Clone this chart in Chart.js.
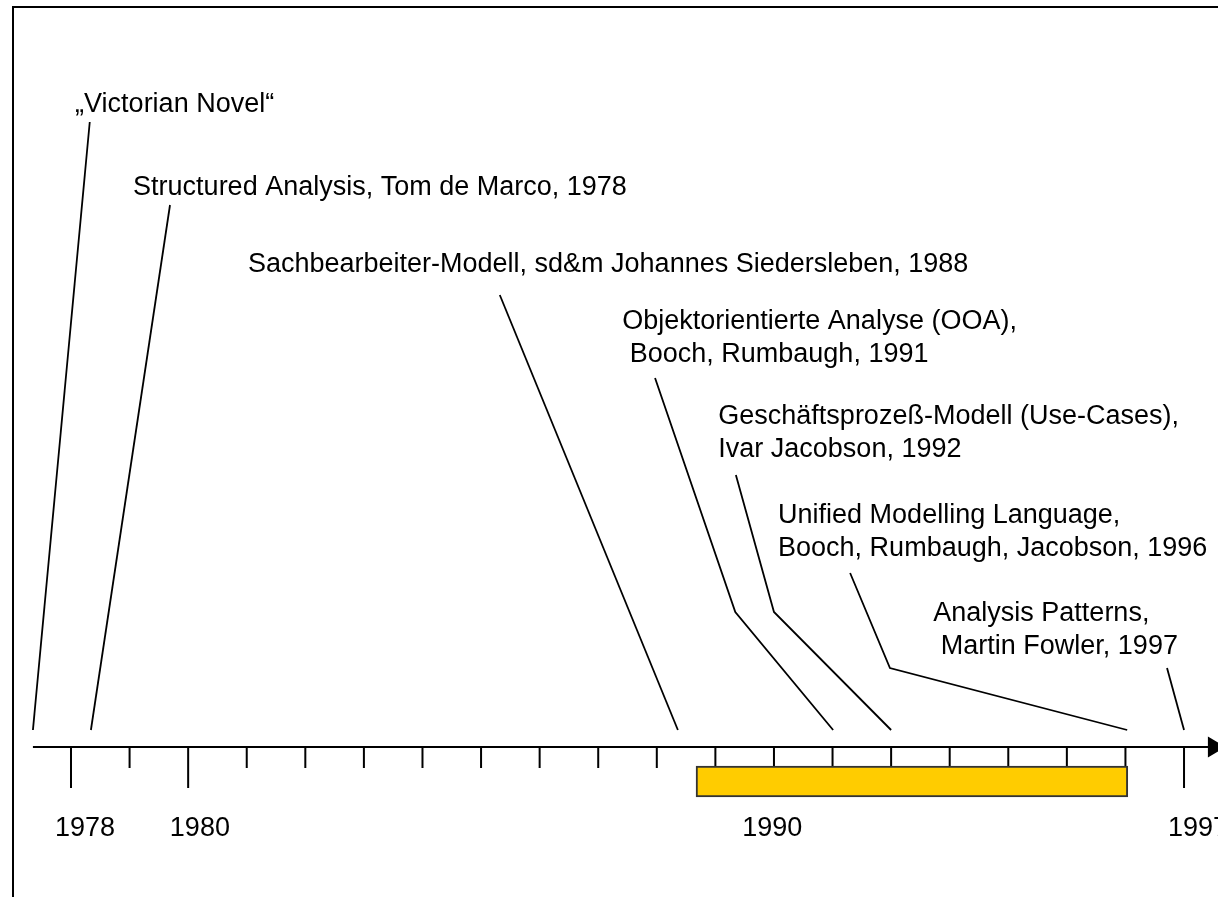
<!DOCTYPE html>
<html>
<head>
<meta charset="utf-8">
<script src="https://cdn.jsdelivr.net/npm/chart.js@4/dist/chart.umd.min.js"></script>
<style>
  html, body { margin: 0; padding: 0; background: #fff; overflow: hidden; }
  #wrap { position: relative; width: 1218px; height: 897px; }
  #c { display: block; }
  #frame { position: absolute; left: 12px; top: 6px; width: 3000px; height: 3000px; border: 2px solid #000; pointer-events: none; }
</style>
</head>
<body>
<div id="wrap">
  <canvas id="c" width="1218" height="897"></canvas>
  <div id="frame"></div>
</div>
<script>
"use strict";
// Timeline of analysis methods, 1978-1997: labelled milestones with leader lines
// onto a year axis, plus the highlighted 1988-1996 span.

// axis (years) and tick marks
const axisStart = 1977.35, axisEnd = 1997.51;
const longTickYears = [1978, 1980, 1997];
const shortTickYears = [1979, 1981, 1982, 1983, 1984, 1985, 1986, 1987, 1988, 1989,
                        1990, 1991, 1992, 1993, 1994, 1995, 1996];
const yearLabels = ["1978", "1980", "1990", "1997"];
const yearLabelAt = [1978.24, 1980.2, 1989.97, 1997.24];

// highlighted span (the yellow bar)
const spanFrom = 1988.67, spanTo = 1996.04;

// milestones: text, where the text sits (year, height above axis),
// and the leader line as [year, height] pairs from the text down to the axis
const milestoneText = [
  ["„Victorian Novel“"],
  ["Structured Analysis, Tom de Marco, 1978"],
  ["Sachbearbeiter-Modell, sd&m Johannes Siedersleben, 1988"],
  ["Objektorientierte Analyse (OOA),", " Booch, Rumbaugh, 1991"],
  ["Geschäftsprozeß-Modell (Use-Cases),", "Ivar Jacobson, 1992"],
  ["Unified Modelling Language,", "Booch, Rumbaugh, Jacobson, 1996"],
  ["Analysis Patterns,", " Martin Fowler, 1997"]
];
const textYear   = [1978.07, 1979.06, 1981.02, 1987.41, 1989.05, 1990.07, 1992.72];
const textHeight = [642, 559, 482, 425, 330, 231, 133];
const leaderYears = [
  [1978.32, 1977.35],
  [1979.69, 1978.34],
  [1985.32, 1988.36],
  [1987.97, 1989.34, 1991.01],
  [1989.35, 1990.00, 1992.00],
  [1991.30, 1991.98, 1996.03],
  [1996.71, 1997.00]
];
const leaderHeights = [
  [625, 17],
  [542, 17],
  [452, 17],
  [369, 135, 17],
  [272, 135, 17],
  [174, 79, 17],
  [79, 17]
];

const SHORT = -21, LONG = -41;
const INK = "#000";
const FONT = '27px "Liberation Sans", Arial, sans-serif';

function tickSegments(years, depth) {
  const pts = [];
  years.forEach(y => { pts.push({ x: y, y: 0 }, { x: y, y: depth }, { x: y, y: null }); });
  return pts;
}

const datasets = [];
datasets.push({
  type: "bar", indexAxis: "y", order: 0,
  data: [{ y: -34.5, x: [spanFrom, spanTo] }],
  backgroundColor: "#FFCC00", borderColor: "#333", borderWidth: 2,
  borderSkipped: false, barThickness: 31
});
datasets.push({
  order: 1, data: [{ x: axisStart, y: 0 }, { x: axisEnd, y: 0 }],
  borderColor: INK, borderWidth: 2, clip: false,
  pointRadius: [0, 10], pointStyle: "triangle", pointRotation: 90,
  pointBackgroundColor: INK, pointBorderColor: INK
});
datasets.push({ order: 2, data: tickSegments(shortTickYears, SHORT), borderColor: INK, borderWidth: 2, pointRadius: 0, spanGaps: false, clip: false });
datasets.push({ order: 2, data: tickSegments(longTickYears, LONG), borderColor: INK, borderWidth: 2, pointRadius: 0, spanGaps: false, clip: false });
leaderYears.forEach((ys, i) => {
  datasets.push({
    order: 3,
    data: ys.map((x, k) => ({ x, y: leaderHeights[i][k] })),
    borderColor: INK, borderWidth: 1.8, pointRadius: 0, tension: 0, clip: false
  });
});

const textPlugin = {
  id: "timelineText",
  afterDatasetsDraw(chart) {
    const { ctx, scales: { x, y } } = chart;
    ctx.save();
    ctx.fillStyle = INK;
    ctx.font = FONT;
    ctx.textBaseline = "middle";
    ctx.textAlign = "left";
    milestoneText.forEach((lines, i) => {
      const px = x.getPixelForValue(textYear[i]);
      const py = y.getPixelForValue(textHeight[i]);
      lines.forEach((t, k) => ctx.fillText(t, px, py + k * 33));
    });
    ctx.textAlign = "center";
    yearLabels.forEach((t, i) => {
      ctx.fillText(t, x.getPixelForValue(yearLabelAt[i]), y.getPixelForValue(-82));
    });
    ctx.restore();
  }
};

new Chart(document.getElementById("c"), {
  type: "line",
  data: { datasets },
  options: {
    responsive: false, animation: false, devicePixelRatio: 1,
    layout: { padding: 0, autoPadding: false },
    plugins: { legend: { display: false }, tooltip: { enabled: false } },
    scales: {
      x: { type: "linear", min: 1976.788, max: 1997.58, offset: false, display: false },
      y: { type: "linear", min: -150, max: 747, offset: false, display: false }
    }
  },
  plugins: [textPlugin]
});
</script>
</body>
</html>
